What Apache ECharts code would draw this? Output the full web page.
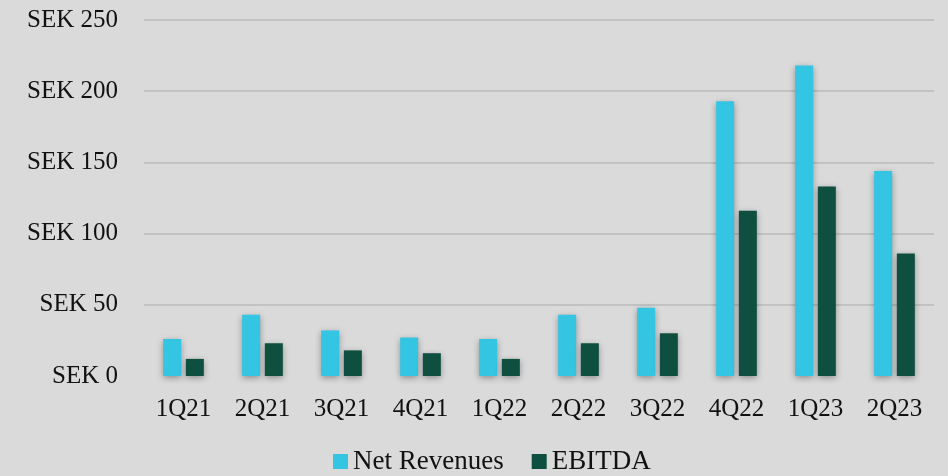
<!DOCTYPE html>
<html>
<head>
<meta charset="utf-8">
<script src="https://cdn.jsdelivr.net/npm/echarts@6/dist/echarts.min.js"></script>
<style>
  html, body { margin: 0; padding: 0; background: #dadada; }
  #barChart { width: 948px; height: 476px; }
</style>
</head>
<body>
<div id="barChart"></div>
<script>
const quarters = ["1Q21", "2Q21", "3Q21", "4Q21", "1Q22", "2Q22", "3Q22", "4Q22", "1Q23", "2Q23"];
const netRevenues = [26, 43, 32, 27, 26, 43, 48, 193, 218, 144];
const ebitda = [12, 23, 18, 16, 12, 23, 30, 116, 133, 86];
const yTicks = [0, 50, 100, 150, 200, 250];

const font = "'Liberation Serif', 'DejaVu Serif', serif";
const shadow = {
  shadowColor: "rgba(0,0,0,0.35)",
  shadowBlur: 6,
  shadowOffsetY: 2,
};

const option = {
  backgroundColor: "#dadada",
  animation: false,
  textStyle: { fontFamily: font, color: "#111" },
  grid: {
    left: 144,
    right: 14,
    top: 20,
    bottom: 100,
  },
  legend: {
    top: 443,
    left: 328,
    itemWidth: 15,
    itemHeight: 15,
    itemGap: 28,
    icon: "rect",
    textStyle: { fontFamily: font, fontSize: 27, color: "#111" },
  },
  xAxis: {
    type: "category",
    data: quarters,
    axisLine: { show: false },
    axisTick: { show: false },
    axisLabel: { margin: 21, fontSize: 25, color: "#111", fontFamily: font },
  },
  yAxis: {
    type: "value",
    min: yTicks[0],
    max: yTicks[yTicks.length - 1],
    interval: 50,
    axisLabel: {
      margin: 26,
      fontSize: 25,
      color: "#111",
      fontFamily: font,
      formatter: (v) => "SEK " + v,
    },
    splitLine: {
      lineStyle: {
        color: ["transparent", "#bababa", "#bababa", "#bababa", "#bababa", "#bababa"],
        width: 1.5,
      },
    },
  },
  series: [
    {
      name: "Net Revenues",
      type: "bar",
      barWidth: 18,
      barGap: "26%",
      data: netRevenues,
      itemStyle: Object.assign({ color: "#34c5e3" }, shadow),
    },
    {
      name: "EBITDA",
      type: "bar",
      barWidth: 18,
      data: ebitda,
      itemStyle: Object.assign({ color: "#0e4f3f" }, shadow),
    },
  ],
};

var chartDom = document.getElementById("barChart");
var myChart = echarts.init(chartDom);
option && myChart.setOption(option);
</script>
</body>
</html>
